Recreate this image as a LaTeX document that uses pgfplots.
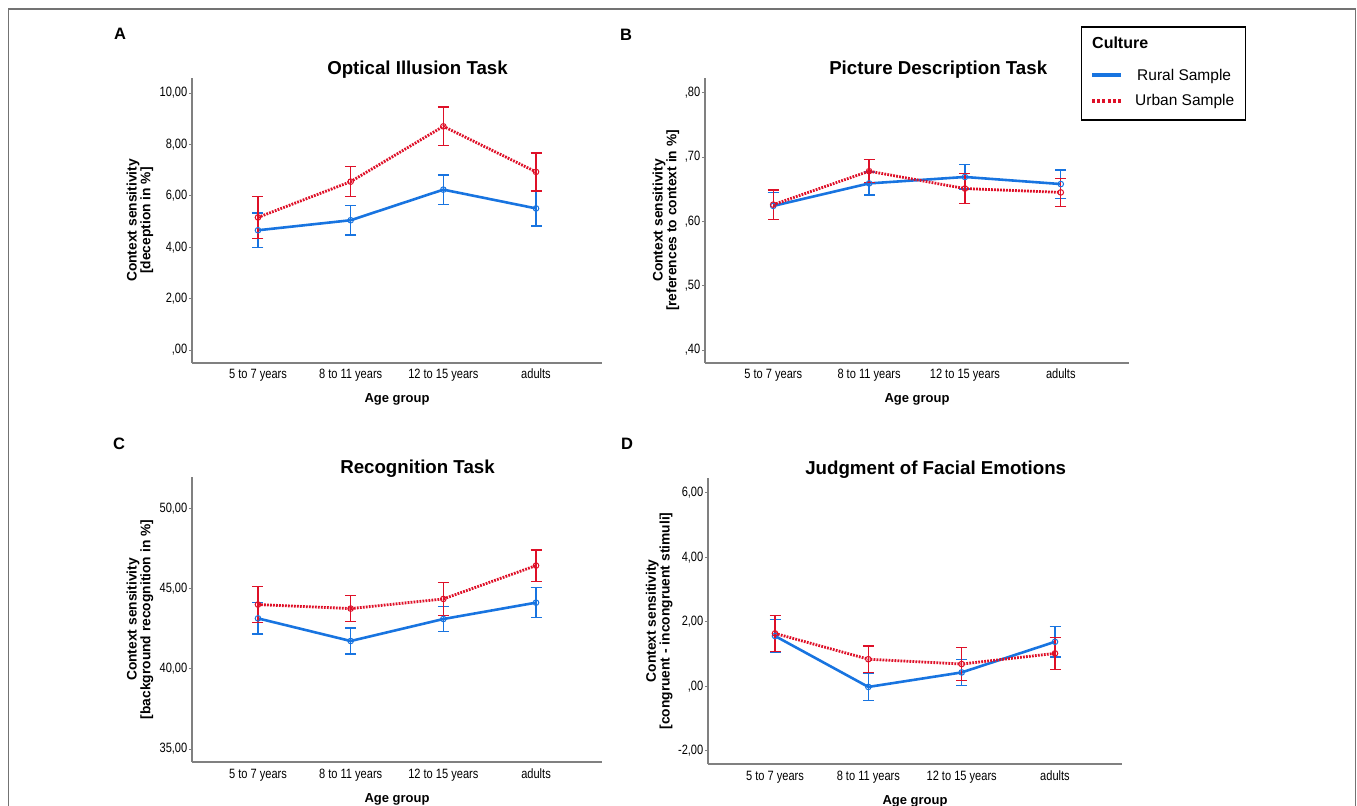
\documentclass[border=0pt]{standalone}
\usepackage{fontspec}
\setmainfont{Liberation Sans}
\newfontfamily\narrowfont[FakeStretch=0.82]{Liberation Sans}
\usepackage{pgfplots}
\pgfplotsset{compat=1.18}
\usepackage{pgfplotstable}
\definecolor{rural}{RGB}{24,116,224}
\definecolor{urban}{RGB}{222,16,40}
\definecolor{axisgray}{RGB}{128,128,128}

% x = age group (0..3), y = mean, e = error (half CI)
\pgfplotstableread{
x y e
0 4.66 0.67
1 5.05 0.58
2 6.24 0.57
3 5.51 0.68
}\Arural
\pgfplotstableread{
x y e
0 5.16 0.81
1 6.55 0.58
2 8.70 0.75
3 6.93 0.74
}\Aurban
\pgfplotstableread{
x y e
0 0.624 0.021
1 0.659 0.018
2 0.669 0.019
3 0.658 0.022
}\Brural
\pgfplotstableread{
x y e
0 0.626 0.023
1 0.678 0.018
2 0.651 0.023
3 0.645 0.022
}\Burban
\pgfplotstableread{
x y e
0 43.14 0.98
1 41.73 0.80
2 43.10 0.78
3 44.12 0.93
}\Crural
\pgfplotstableread{
x y e
0 44.00 1.12
1 43.75 0.82
2 44.35 1.03
3 46.43 0.98
}\Curban
\pgfplotstableread{
x y e
0 1.56 0.52
1 -0.02 0.42
2 0.43 0.40
3 1.38 0.47
}\Drural
\pgfplotstableread{
x y e
0 1.64 0.56
1 0.84 0.41
2 0.69 0.51
3 1.02 0.50
}\Durban

\pgfplotsset{
  panel/.style={
    scale only axis,
    anchor=south west,
    axis x line*=bottom,
    axis y line*=left,
    axis line style={draw=axisgray, line width=1.4bp},
    xmin=-0.712, xmax=3.712,
    xtick={0,1,2,3},
    xticklabels={5 to 7 years,8 to 11 years,12 to 15 years,adults},
    x tick style={draw=none},
    y tick style={draw=axisgray, line width=0.8bp},
    major tick length=3bp,
    tick align=outside,
    xticklabel style={font=\narrowfont\fontsize{13.5bp}{15bp}\selectfont, anchor=base, yshift=-13bp, inner sep=0bp},
    yticklabel style={font=\narrowfont\fontsize{13.5bp}{15bp}\selectfont, inner sep=1.5bp},
    title style={at={(axis description cs:0.55,1)}, anchor=base, yshift=-2bp,
      font=\bfseries\fontsize{18.7bp}{22bp}\selectfont},
    xlabel={Age group},
    xlabel style={at={(axis description cs:0.5,0)}, anchor=base, yshift=-40bp,
      font=\bfseries\fontsize{13bp}{15bp}\selectfont},
    ylabel style={anchor=center, align=center,
      font=\bfseries\fontsize{13.8bp}{12.8bp}\selectfont},
    clip=false,
  },
  ruralplot/.style={
    color=rural, line width=2.6bp, solid,
    mark=o, mark size=2.8bp, mark options={solid, line width=1bp, fill=white},
    error bars/.cd, y dir=both, y explicit,
    error bar style={line width=1.4bp, solid, draw=rural},
    error mark=|, error mark options={mark size=5.5bp, line width=1.4bp, solid, draw=rural},
  },
  urbanplot/.style={
    color=urban, line width=2.8bp, dash pattern=on 1.8bp off 1.2bp,
    mark=o, mark size=2.8bp, mark options={solid, line width=1bp, fill=white},
    error bars/.cd, y dir=both, y explicit,
    error bar style={line width=1.4bp, solid, draw=urban},
    error mark=|, error mark options={mark size=5.5bp, line width=1.4bp, solid, draw=urban},
  },
}

\begin{document}
\begin{tikzpicture}
\path[use as bounding box] (0bp,0bp) rectangle (1357bp,806bp);

% Panel A
\begin{axis}[panel, at={(192bp,443bp)}, width=410bp, height=285bp,
  ymin=-0.5, ymax=10.58,
  ytick={0,2,4,6,8,10}, yticklabels={{,00},{2,00},{4,00},{6,00},{8,00},{10,00}},
  title={Optical Illusion Task},
  ylabel={Context sensitivity\\{[deception in \%]}},
  ylabel style={at={(axis description cs:-0.127,0.5)}},
]
\addplot[ruralplot] table[x=x, y=y, y error=e] {\Arural};
\addplot[urbanplot] table[x=x, y=y, y error=e] {\Aurban};
\end{axis}

% Panel B
\begin{axis}[panel, at={(705bp,443bp)}, width=424bp, height=285bp,
  ymin=0.3798, ymax=0.8229,
  ytick={0.4,0.5,0.6,0.7,0.8}, yticklabels={{,40},{,50},{,60},{,70},{,80}},
  title={Picture Description Task},
  ylabel={Context sensitivity\\{[references to context in \%]}},
  ylabel style={at={(axis description cs:-0.092,0.5)}},
]
\addplot[ruralplot] table[x=x, y=y, y error=e] {\Brural};
\addplot[urbanplot] table[x=x, y=y, y error=e] {\Burban};
\end{axis}

% Panel C
\begin{axis}[panel, at={(192bp,44bp)}, width=410bp, height=285bp,
  ymin=34.19, ymax=51.95,
  ytick={35,40,45,50}, yticklabels={{35,00},{40,00},{45,00},{50,00}},
  title={Recognition Task},
  ylabel={Context sensitivity\\{[background recognition in \%]}},
  ylabel style={at={(axis description cs:-0.127,0.5)}},
]
\addplot[ruralplot] table[x=x, y=y, y error=e] {\Crural};
\addplot[urbanplot] table[x=x, y=y, y error=e] {\Curban};
\end{axis}

% Panel D
\begin{axis}[panel, at={(708bp,42bp)}, width=414bp, height=286bp,
  xmin=-0.718, xmax=3.718,
  ymin=-2.41, ymax=6.46,
  ytick={-2,0,2,4,6}, yticklabels={{-2,00},{,00},{2,00},{4,00},{6,00}},
  title={Judgment of Facial Emotions},
  ylabel={Context sensitivity\\{[congruent - incongruent stimuli]}},
  ylabel style={at={(axis description cs:-0.118,0.5)}},
]
\addplot[ruralplot] table[x=x, y=y, y error=e] {\Drural};
\addplot[urbanplot] table[x=x, y=y, y error=e] {\Durban};
\end{axis}

\begin{scope}[x=1bp,y=1bp]
\draw[color=axisgray!90!black, line width=1.5bp] (8.5,-5) -- (8.5,797) -- (1355.5,797) -- (1355.5,-5);
% Panel letters
\node[anchor=base west, inner sep=0, font=\bfseries\fontsize{16.5bp}{18bp}\selectfont] at (114,766) {A};
\node[anchor=base west, inner sep=0, font=\bfseries\fontsize{16.5bp}{18bp}\selectfont] at (620,765) {B};
\node[anchor=base west, inner sep=0, font=\bfseries\fontsize{16.5bp}{18bp}\selectfont] at (113,357) {C};
\node[anchor=base west, inner sep=0, font=\bfseries\fontsize{16.5bp}{18bp}\selectfont] at (621,357) {D};
% Legend
\draw[black, line width=1.5bp] (1081.5,779) rectangle (1245.5,686);
\node[anchor=base west, inner sep=0, font=\bfseries\fontsize{16bp}{18bp}\selectfont] at (1092,757) {Culture};
\draw[rural, line width=3.5bp] (1092,731) -- (1121,731);
\node[anchor=base west, inner sep=0, font=\fontsize{15.5bp}{18bp}\selectfont] at (1137,725) {Rural Sample};
\draw[urban, line width=3.5bp, dash pattern=on 3bp off 2.2bp] (1092,705) -- (1121,705);
\node[anchor=base west, inner sep=0, font=\fontsize{15.5bp}{18bp}\selectfont] at (1135,700) {Urban Sample};
\end{scope}
\end{tikzpicture}
\end{document}
